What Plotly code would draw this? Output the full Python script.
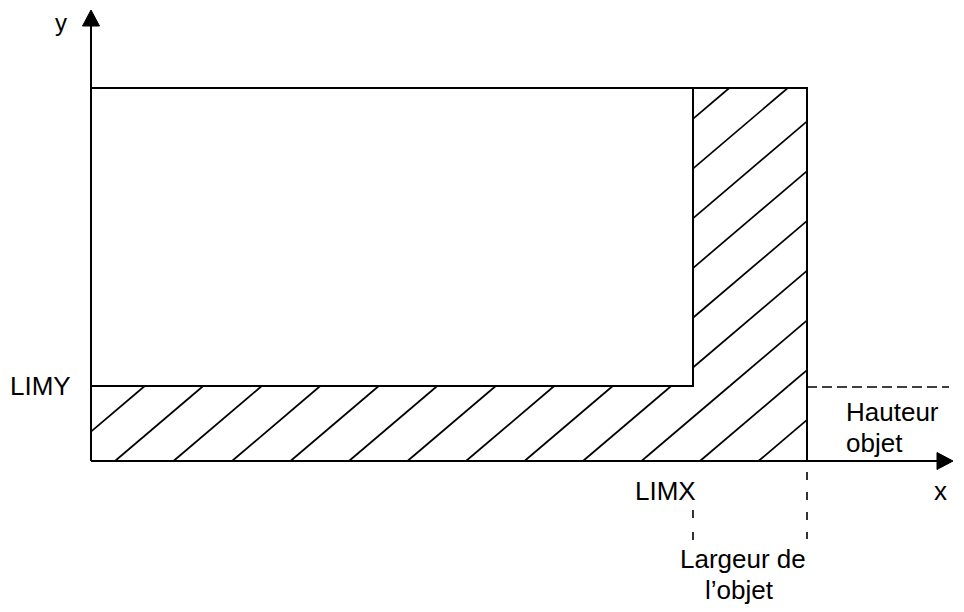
import plotly.graph_objects as go

# ---- Diagram quantities (units ~ reference pixels, origin at the axes crossing) ----
largeur_objet = 716      # object width  (right edge of the outer rectangle)
hauteur_objet = 373      # object height (top edge of the outer rectangle)
limx = 602               # LIMX
limy = 75                # LIMY
axis_x_end = 862         # tip of the x arrow
axis_y_end = 451         # tip of the y arrow
arrow_len = 16
arrow_half = 8.5

hatch_slope = 0.85
hatch_spacing = 58.5
hatch_offset = 24
hatch_index = list(range(-1, 20))

dash_h_end = 858            # end of the dashed "hauteur" guide
dash_v_right = (-11, -78)   # dashed guide under the object width
dash_v_limx = (-49, -82)    # dashed guide under LIMX

label_font = dict(family="Liberation Sans, Arial, sans-serif", size=26, color="black")

fig = go.Figure()


def add_line(xs, ys, width=2, dash="solid"):
    fig.add_trace(go.Scatter(x=xs, y=ys, mode="lines",
                             line=dict(color="black", width=width, dash=dash),
                             hoverinfo="skip", showlegend=False))


def clip(x0, xa, xb, ya, yb, s):
    """segment of y = s (x - x0) inside the rectangle [xa,xb]x[ya,yb]"""
    lo = max(xa, x0 + ya / s)
    hi = min(xb, x0 + yb / s)
    if hi <= lo:
        return None
    return (lo, hi), (s * (lo - x0), s * (hi - x0))


# hatching of the L-shaped zone
hx, hy = [], []
for k in hatch_index:
    x0 = hatch_offset + k * hatch_spacing
    for rect in [(0, largeur_objet, 0, limy), (limx, largeur_objet, limy, hauteur_objet)]:
        seg = clip(x0, *rect, hatch_slope)
        if seg:
            hx += [seg[0][0], seg[0][1], None]
            hy += [seg[1][0], seg[1][1], None]
add_line(hx, hy, width=1.7)

# outer rectangle (top and right edges) and inner white rectangle edges
add_line([0, largeur_objet, largeur_objet], [hauteur_objet, hauteur_objet, 0], width=2)
add_line([0, limx, limx], [limy, limy, hauteur_objet], width=2)

# axes
add_line([0, axis_x_end - arrow_len], [0, 0], width=2)
add_line([0, 0], [0, axis_y_end - arrow_len], width=2)
fig.add_trace(go.Scatter(x=[axis_x_end, axis_x_end - arrow_len, axis_x_end - arrow_len, axis_x_end],
                         y=[0, arrow_half, -arrow_half, 0], mode="lines", fill="toself",
                         fillcolor="black", line=dict(color="black", width=1),
                         hoverinfo="skip", showlegend=False))
fig.add_trace(go.Scatter(x=[0, arrow_half, -arrow_half, 0],
                         y=[axis_y_end, axis_y_end - arrow_len, axis_y_end - arrow_len, axis_y_end],
                         mode="lines", fill="toself",
                         fillcolor="black", line=dict(color="black", width=1),
                         hoverinfo="skip", showlegend=False))

# dashed guides
add_line([largeur_objet, dash_h_end], [limy - 1, limy - 1], width=1.6, dash="10px,5px")
add_line([largeur_objet, largeur_objet], list(dash_v_right), width=1.6, dash="8px,12px")
add_line([limx, limx], list(dash_v_limx), width=1.6, dash="8px,14px")

# labels
labels = [
    ("x", 849, -30, "center"),
    ("LIMY", -18, 75, "right"),
    ("LIMX", 574, -30, "center"),
    ("Hauteur", 753, 49, "left"),
    ("objet", 753, 18, "left"),
    ("Largeur de", 652, -98, "center"),
    ("l’objet", 648, -129, "center"),
]
for text, x, y, anchor in labels:
    fig.add_annotation(x=x, y=y, text=text, showarrow=False, xanchor=anchor,
                       yanchor="middle", font=label_font)
# y-axis label, kept fully inside the figure's top edge
fig.add_annotation(x=-30, y=439, text="y", showarrow=False, xanchor="center",
                   yanchor="middle", font=dict(label_font, size=24))

# the page body adds an 8 px offset; shift the ranges so the origin lands at (91, 461)
fig.update_layout(
    width=964, height=612,
    margin=dict(l=0, r=0, t=0, b=0),
    paper_bgcolor="white", plot_bgcolor="white",
    xaxis=dict(range=[-83, 881], visible=False, fixedrange=True),
    yaxis=dict(range=[-159, 453], visible=False, fixedrange=True),
    showlegend=False,
)
fig.write_html("out.html")
